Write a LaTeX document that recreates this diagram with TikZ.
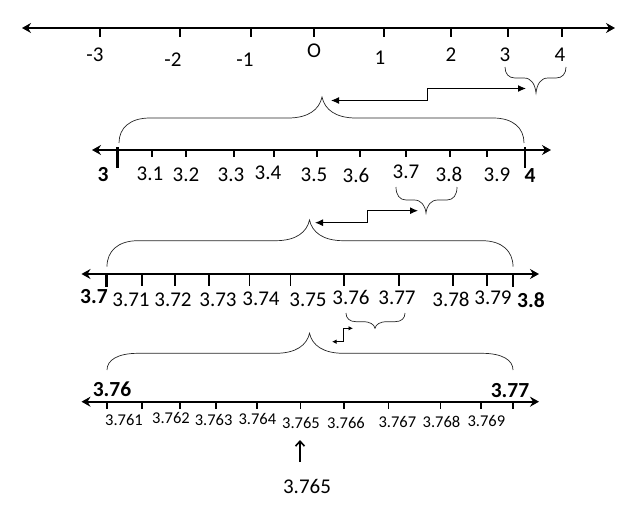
\documentclass[tikz,border=0pt]{standalone}
\usepackage{fontspec}
\setmainfont{Carlito}
\usetikzlibrary{arrows.meta}
\tikzset{
  numline/.style={line width=2.2pt, {Stealth[length=9pt,width=10pt,inset=3pt]}-{Stealth[length=9pt,width=10pt,inset=3pt]}},
  tickmark/.style={line width=1.8pt},
  boldtick/.style={line width=2.8pt},
  brace/.style={line width=0.7pt, black!85},
  stepar/.style={line width=1pt, {Latex[length=8pt,width=7pt]}-{Latex[length=8pt,width=7pt]}},
  tinyar/.style={line width=0.9pt, {Latex[length=4.5pt,width=4.5pt]}-{Latex[length=4.5pt,width=4.5pt]}},
  lbl/.style={font=\fontsize{21}{21}\selectfont, inner sep=0pt},
  blbl/.style={font=\fontsize{21.5}{21.5}\selectfont\bfseries, inner sep=0pt},
  slbl/.style={font=\fontsize{16.5}{16.5}\selectfont, inner sep=0pt},
}
% brace: x1, x2, xpeak, yend, yhoriz, ypeak, corner, half-width of cusp
\newcommand{\mybrace}[8]{%
  \draw[brace] (#1,#4) .. controls (#1,{#4+0.6*(#5-#4)}) and ({#1+0.35*#7},#5) .. ({#1+#7},#5)
    -- ({#3-#8},#5) .. controls ({#3-0.4*#8},#5) and ({#3-0.08*#8},{#5+0.4*(#6-#5)}) .. (#3,#6)
    .. controls ({#3+0.08*#8},{#5+0.4*(#6-#5)}) and ({#3+0.4*#8},#5) .. ({#3+#8},#5)
    -- ({#2-#7},#5) .. controls ({#2-0.35*#7},#5) and (#2,{#4+0.6*(#5-#4)}) .. (#2,#4);}
\begin{document}
\begin{tikzpicture}[x=1pt,y=-1pt]
\useasboundingbox (0,0) rectangle (639,524);
% ---------- row 1
\coordinate (L1a) at (22,28); \coordinate (L1b) at (615,28);
\draw[numline] (L1a) -- (L1b);
\foreach \x in {100,180,251,314,384,451,508,562} \draw[tickmark] (\x,28) -- (\x,37);
\node[lbl] (m3) at (95,55) {-3};
\node[lbl] (m2) at (173,60) {-2};
\node[lbl] (m1) at (245,60) {-1};
\node[lbl] (z0) at (314,51) {O};
\node[lbl] (p1) at (380,58) {1};
\node[lbl] (p2) at (451,55) {2};
\node[lbl] (p3) at (505,55) {3};
\node[lbl] (p4) at (560,55) {4};
\mybrace{505}{566}{536}{67}{78}{93}{10}{12}
\coordinate (sb1) at (536,93);
\mybrace{119}{524}{322}{143}{118}{97}{31}{34}
\coordinate (bb1) at (322,97);
\coordinate (a1l) at (331,100.5); \coordinate (a1r) at (526,88.5);
\draw[stepar] (a1l) -- (427,100.5) |- (a1r);
% ---------- row 2
\coordinate (L2a) at (92,150); \coordinate (L2b) at (551,150);
\draw[numline] (L2a) -- (L2b);
\foreach \x in {117.5,525} \draw[boldtick] (\x,147) -- (\x,168);
\foreach \x in {152,186,234,274,317,360,406,450,487} \draw[tickmark] (\x,150) -- (\x,157);
\node[blbl] (r2a) at (103,175) {3};
\node[lbl] (r2b) at (150,174) {3.1};
\node[lbl] (r2c) at (186,175) {3.2};
\node[lbl] (r2d) at (231,175) {3.3};
\node[lbl] (r2e) at (268,173) {3.4};
\node[lbl] (r2f) at (314,175) {3.5};
\node[lbl] (r2g) at (356,175) {3.6};
\node[lbl] (r2h) at (406,172) {3.7};
\node[lbl] (r2i) at (449,174) {3.8};
\node[lbl] (r2j) at (497,175) {3.9};
\node[blbl] (r2k) at (530,176) {4};
\mybrace{396}{457}{426}{187}{200}{213}{10}{12}
\coordinate (sb2) at (426,213);
\mybrace{107}{513}{309.5}{266.7}{240.7}{220}{31}{34}
\coordinate (bb2) at (309.5,220);
\coordinate (a2l) at (315,222.7); \coordinate (a2r) at (418,210.7);
\draw[stepar] (a2l) -- (367,222.7) |- (a2r);
% ---------- row 3
\coordinate (L3a) at (81.5,274); \coordinate (L3b) at (539,274);
\draw[numline] (L3a) -- (L3b);
\foreach \x in {106.7,513} \draw[boldtick] (\x,274) -- (\x,287);
\foreach \x in {141.8,174.9,209,249.5,290.4,344.3,399.2,453,487} \draw[tickmark] (\x,274) -- (\x,286);
\node[blbl] (r3a) at (94,297) {3.7};
\node[lbl] (r3b) at (131,300) {3.71};
\node[lbl] (r3c) at (173,300) {3.72};
\node[lbl] (r3d) at (218,300) {3.73};
\node[lbl] (r3e) at (261,299) {3.74};
\node[lbl] (r3f) at (308,300) {3.75};
\node[lbl] (r3g) at (351,297) {3.76};
\node[lbl] (r3h) at (397,298) {3.77};
\node[lbl] (r3i) at (451,299) {3.78};
\node[lbl] (r3j) at (493,298) {3.79};
\node[blbl] (r3k) at (531,300) {3.8};
\mybrace{346}{405}{375}{313}{321.7}{328.3}{10}{12}
\coordinate (sb3) at (375,328.3);
\mybrace{107}{513}{309.5}{370}{353.3}{333.3}{31}{34}
\coordinate (bb3) at (309.5,333.3);
\coordinate (a3l) at (332,341.7); \coordinate (a3r) at (353,328.3);
\draw[tinyar] (a3l) -- (343.6,341.7) |- (a3r);
% ---------- row 4
\node[blbl] (r4a) at (112,389) {3.76};
\node[blbl] (r4b) at (510,391) {3.77};
\coordinate (L4a) at (81.5,401.7); \coordinate (L4b) at (539,401.7);
\draw[numline] (L4a) -- (L4b);
\foreach \x in {106.7,141.8,180,216,256.7,300.5,344,388.4,440.5,480.7,513} \draw[tickmark] (\x,401.7) -- (\x,409);
\node[slbl] (r4c) at (124,420) {3.761};
\node[slbl] (r4d) at (171,418) {3.762};
\node[slbl] (r4e) at (213.6,420) {3.763};
\node[slbl] (r4f) at (257.4,419) {3.764};
\node[slbl] (r4g) at (301,423) {3.765};
\node[slbl] (r4h) at (346,423) {3.766};
\node[slbl] (r4i) at (397.4,422) {3.767};
\node[slbl] (r4j) at (441.5,422) {3.768};
\node[slbl] (r4k) at (486.4,421) {3.769};
% ---------- answer
\node[font=\fontsize{21}{21}\selectfont, inner sep=0pt] (ans) at (307,486) {3.765};
\coordinate (up) at (300,440);
\draw[line width=1.6pt, -{Straight Barb[length=5pt,width=9pt]}] (300,462) -- (up);
\end{tikzpicture}
\end{document}
